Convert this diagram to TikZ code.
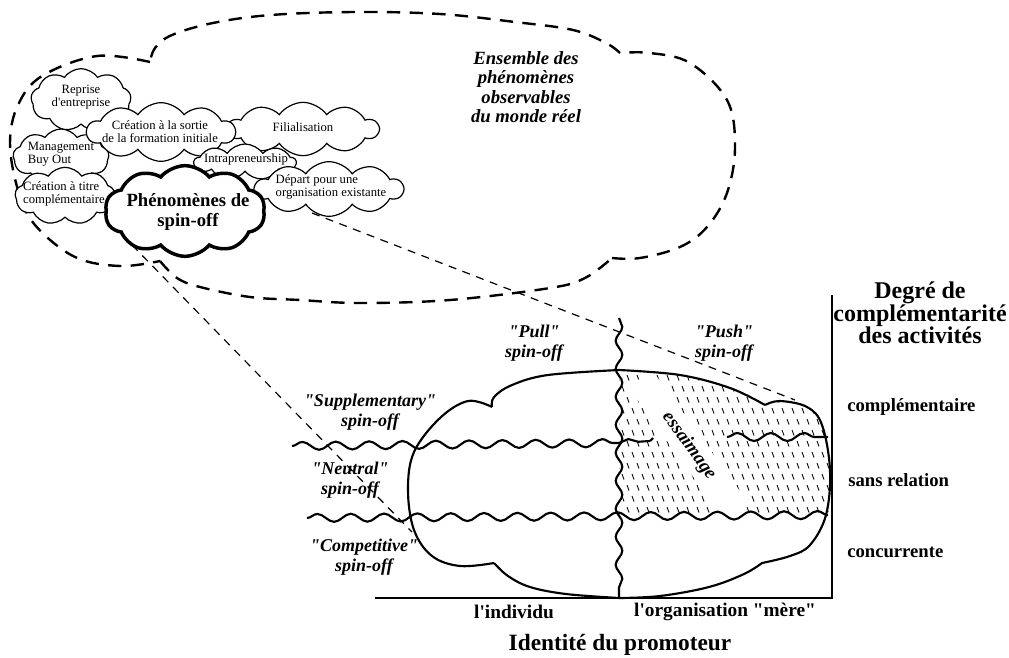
\documentclass[tikz,border=0pt]{standalone}
\usepackage{fontspec}
\newfontfamily\lib{Liberation Serif}
\usetikzlibrary{shapes.symbols,decorations.pathmorphing}
\begin{document}
\begin{tikzpicture}[x=0.75pt,y=-0.75pt,
  smallcloud/.style={cloud, cloud puffs=9, cloud puff arc=110, cloud ignores aspect, draw, line width=0.9pt, fill=white, inner sep=0pt},
  bigcloud/.style={cloud, cloud puffs=10, cloud puff arc=100, cloud ignores aspect, draw, line width=2.6pt, fill=white, inner sep=0pt},
  ctext/.style={font=\lib\fontsize{9.5}{9.7}\selectfont, inner sep=0pt},
  ptext/.style={font=\lib\bfseries\fontsize{14}{14.5}\selectfont, align=center, inner sep=0pt},
  spinlbl/.style={font=\lib\bfseries\itshape\fontsize{13.5}{14.6}\selectfont, align=center, inner sep=0pt},
  axlbl/.style={font=\lib\bfseries\fontsize{14}{15}\selectfont, inner sep=0pt},
  bigdash/.style={line width=1.8pt, dash pattern=on 10pt off 7pt},
  projline/.style={line width=0.9pt, dash pattern=on 6pt off 5pt},
  solidline/.style={line width=1.6pt},
  wave/.style={line width=1.6pt, decorate, decoration={snake, amplitude=3pt, segment length=25pt}},
  vwave/.style={line width=1.6pt, decorate, decoration={snake, amplitude=2.5pt, segment length=21pt}},
  stip/.style={line width=0.65pt},
  axisline/.style={line width=2.2pt},
]
\useasboundingbox (0,0) rectangle (1009,657);

% ---------- big dashed cloud (real world) ----------
\draw[bigdash]
  plot[smooth, tension=0.6] coordinates {(150,62) (97,56) (42,76) (18,105) (10,143) (18,190) (35,225) (75,257) (120,266) (160,261)}
  plot[smooth, tension=0.6] coordinates {(160,261) (177,278) (200,287) (250,297) (300,300) (360,303) (450,300) (550,288) (585,278) (612,258)}
  plot[smooth, tension=0.6] coordinates {(612,258) (640,258) (680,247) (707,227) (727,193) (735,147) (727,100) (690,63) (650,53) (620,53)}
  plot[smooth, tension=0.6] coordinates {(620,53) (606,43) (573,30) (515,22) (440,14) (355,12) (271,15) (213,23) (172,35) (155,48) (150,62)};

\node[font=\lib\bfseries\itshape\fontsize{14}{14.5}\selectfont, align=center, inner sep=0pt] (ens) at (526,87)
  {Ensemble des\\phénomènes\\observables\\du monde réel};

% ---------- projection lines ----------
\coordinate (pa1) at (132,245);
\coordinate (pa2) at (412,532);
\coordinate (pb1) at (312,213);
\coordinate (pb2) at (795,400);
\draw[projline] (pa1) -- (pa2);
\draw[projline] (pb1) -- (pb2);

% ---------- small clouds ----------
\node[smallcloud, minimum width=75pt, minimum height=47pt] (c1) at (81,100) {};
\node[ctext, align=center] (t1) at (81,97) {Reprise\\d'entreprise};
\node[smallcloud, minimum width=72pt, minimum height=42pt] (c4) at (61,157) {};
\node[ctext, align=left] (t4) at (61,154) {Management\\Buy Out};
\node[smallcloud, minimum width=113pt, minimum height=40pt, cloud puffs=10] (c3) at (303,129) {};
\node[ctext] (t3) at (303,127) {Filialisation};
\node[smallcloud, minimum width=111pt, minimum height=44pt, cloud puffs=10] (c2) at (161,132) {};
\node[ctext, align=center] (t2) at (160,132) {Création à la sortie\\de la formation initiale};
\node[smallcloud, minimum width=76pt, minimum height=27pt, cloud puffs=9] (c5) at (245,162) {};
\node[ctext] (t5) at (246,159) {Intrapreneurship};
\node[smallcloud, minimum width=111pt, minimum height=41pt, cloud puffs=10] (c6) at (329,189) {};
\node[ctext, align=left] (t6) at (331,187) {Départ pour une\\organisation existante};
\node[smallcloud, minimum width=75pt, minimum height=43pt] (c7) at (65,196) {};
\node[ctext, align=left] (t7) at (64,194) {Création à titre\\complémentaire};
\node[bigcloud, minimum width=120pt, minimum height=68pt] (c8) at (185,211) {};
\node[ptext] (t8) at (188,212) {Phénomènes de\\spin-off};

% ---------- stippled region (essaimage) ----------
\begin{scope}
\clip (619,370) -- plot[smooth, tension=0.6] coordinates {(619,370) (680,375) (730,388) (765,405)}
  -- plot[smooth, tension=0.6] coordinates {(765,405) (780,401) (807,407) (822,425) (830,470) (828,517)}
  -- (619,517) -- cycle;
\foreach \j in {0,...,14}{
  \foreach \i in {0,...,22}{
    \draw[stip] ({612+10*\i+5*mod(\j,2)},{364+11*\j}) -- ++(2,5.5);
  }
}
\end{scope}
\node[fill=white, rotate=-54, inner sep=0pt, minimum width=125pt, minimum height=22pt] (band) at (689,446) {};
\node[font=\lib\bfseries\itshape\fontsize{14}{15}\selectfont, rotate=-54, inner sep=0pt] (ess) at (689,446) {essaimage};

% ---------- lower cloud ----------
\draw[solidline]
  plot[smooth, tension=0.6] coordinates {(619,370) (680,375) (730,388) (765,405)}
  plot[smooth, tension=0.6] coordinates {(765,405) (780,401) (807,407) (822,425) (830,470) (826,515) (810,545) (790,556) (762,563)}
  plot[smooth, tension=0.6] coordinates {(762,563) (744,574) (709,587) (660,596) (619,598)}
  plot[smooth, tension=0.6] coordinates {(619,598) (566,594) (530,587) (508,576) (494,563)}
  plot[smooth, tension=0.6] coordinates {(494,563) (460,566) (432,556) (414,530) (408,490) (414,452) (440,418) (468,401) (492,407)}
  plot[smooth, tension=0.6] coordinates {(492,407) (494,397) (512,385) (548,375) (619,370)};

% ---------- wavy separators ----------
\coordinate (w1a) at (292,446);
\coordinate (w1b) at (619,443);
\coordinate (w1c) at (650,441);
\coordinate (w1d) at (727,437);
\coordinate (w1e) at (828,437);
\coordinate (w2a) at (307,518);
\coordinate (w2b) at (828,515);
\coordinate (vt) at (619,318);
\coordinate (vb) at (619,598);
\draw[wave] (w1a) -- (w1b);
\draw[wave, decoration={snake, amplitude=2.5pt, segment length=23pt}] (w1b) -- (w1c);
\draw[solidline] (w1c) -- ++(3,-3);
\draw[wave] (w1d) -- (w1e);
\draw[wave] (w2a) -- (w2b);
\draw[vwave] (vt) -- (vb);

% ---------- axes ----------
\coordinate (o) at (832,598);
\draw[axisline] (375,598) -- (o) -- (832,295);

% ---------- labels ----------
\node[spinlbl] (pull) at (534,343) {"Pull"\\spin-off};
\node[spinlbl] (push) at (724,343) {"Push"\\spin-off};
\node[spinlbl] (supp) at (370,412) {"Supplementary"\\spin-off};
\node[spinlbl] (neut) at (350,480) {"Neutral"\\spin-off};
\node[spinlbl] (comp) at (364,557) {"Competitive"\\spin-off};

\node[font=\lib\bfseries\fontsize{18}{17}\selectfont, align=center, inner sep=0pt] (deg) at (920,313)
  {Degré de\\complémentarité\\des activités};
\node[axlbl, anchor=west] (lc) at (847,407) {complémentaire};
\node[axlbl, anchor=west] (ls) at (848,480) {sans relation};
\node[axlbl, anchor=west] (lk) at (847,552) {concurrente};

\node[font=\lib\bfseries\fontsize{14.5}{15}\selectfont, inner sep=0pt] (ind) at (514,612) {l'individu};
\node[font=\lib\bfseries\fontsize{14.5}{15}\selectfont, inner sep=0pt] (org) at (725,612) {l'organisation "mère"};
\node[font=\lib\bfseries\fontsize{17.5}{18}\selectfont, inner sep=0pt] (idt) at (620,645) {Identité du promoteur};
\end{tikzpicture}
\end{document}
